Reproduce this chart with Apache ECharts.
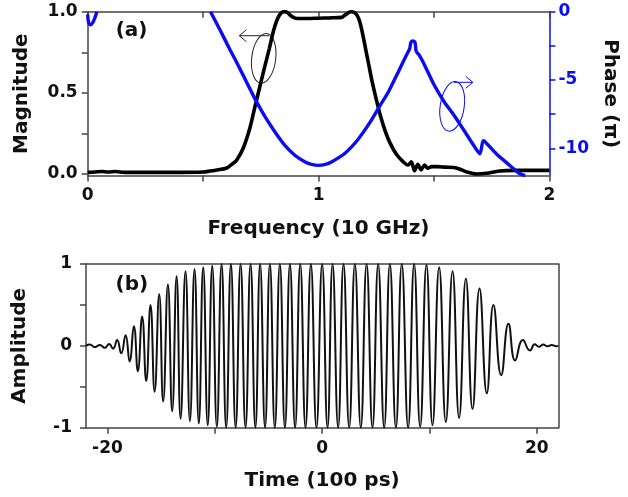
<!DOCTYPE html>
<html>
<head>
<meta charset="utf-8">
<script src="https://cdn.jsdelivr.net/npm/echarts@6/dist/echarts.min.js"></script>
<style>
html,body{margin:0;padding:0;background:#fff;}
#c{width:628px;height:497px;}
</style>
</head>
<body>
<div id="c"></div>
<script>
// ---------- Panel (a): magnitude (left axis) ----------
const magFreq = [0, 0.03, 0.06, 0.09, 0.12, 0.16, 0.25, 0.4, 0.5, 0.53, 0.56, 0.6, 0.625, 0.645, 0.674, 0.702, 0.723, 0.744, 0.765, 0.787, 0.808, 0.829, 0.85, 0.865, 0.88, 0.9, 0.95, 1.0, 1.05, 1.1, 1.12, 1.14, 1.16, 1.176, 1.19, 1.204, 1.218, 1.232, 1.25, 1.27, 1.29, 1.31, 1.338, 1.367, 1.388, 1.402, 1.416, 1.43, 1.444, 1.459, 1.473, 1.49, 1.515, 1.55, 1.586, 1.62, 1.643, 1.685, 1.727, 1.784, 1.85, 1.93, 2.0];
const magValues = [0.01, 0.012, 0.015, 0.012, 0.015, 0.01, 0.01, 0.01, 0.012, 0.018, 0.025, 0.035, 0.06, 0.085, 0.16, 0.28, 0.405, 0.528, 0.651, 0.774, 0.898, 0.975, 1.0, 0.995, 0.975, 0.96, 0.958, 0.96, 0.962, 0.965, 0.985, 1.0, 0.99, 0.95, 0.87, 0.77, 0.67, 0.57, 0.46, 0.35, 0.26, 0.19, 0.12, 0.075, 0.055, 0.075, 0.02, 0.06, 0.025, 0.055, 0.035, 0.045, 0.045, 0.042, 0.04, 0.025, 0.012, 0.0, 0.004, 0.018, 0.022, 0.022, 0.022];

// ---------- Panel (a): phase (right axis, units of pi) ----------
const phaseLowFreq = [0, 0.004, 0.012, 0.022, 0.032, 0.04];
const phaseLowValues = [-0.2, -0.8, -0.95, -0.8, -0.4, 0];
const phaseFreq = [0.532, 0.575, 0.617, 0.645, 0.688, 0.73, 0.772, 0.815, 0.857, 0.9, 0.942, 0.97, 1.0, 1.03, 1.056, 1.112, 1.169, 1.225, 1.268, 1.303, 1.346, 1.381, 1.395, 1.4, 1.409, 1.418, 1.423, 1.437, 1.459, 1.501, 1.544, 1.586, 1.629, 1.671, 1.699, 1.713, 1.72, 1.77, 1.826, 1.869, 1.895];
const phaseValues = [0, -1.4, -2.8, -3.7, -5.15, -6.55, -7.8, -8.9, -9.85, -10.55, -11.0, -11.18, -11.25, -11.18, -11.0, -10.4, -9.39, -8.05, -6.83, -5.86, -4.39, -3.17, -2.7, -2.25, -2.15, -2.25, -2.9, -3.2, -3.9, -5.37, -6.59, -7.56, -8.66, -9.76, -10.4, -9.45, -9.5, -10.4, -11.22, -11.83, -12];

// ---------- Panel (b): waveform extrema ----------
const waveTime = [-22, -21.64, -21.17, -20.71, -20.24, -19.84, -19.47, -19.1, -18.72, -18.31, -17.94, -17.54, -17.17, -16.77, -16.39, -15.99, -15.61, -15.18, -14.81, -14.37, -13.97, -13.56, -13.19, -12.73, -12.32, -11.89, -11.49, -11.08, -10.66, -10.24, -9.81, -9.37, -8.94, -8.5, -8.06, -7.6, -7.14, -6.67, -6.22, -5.78, -5.32, -4.87, -4.41, -3.94, -3.47, -3.0, -2.52, -2.04, -1.55, -1.05, -0.53, 0, 0.5, 0.97, 1.49, 1.99, 2.52, 3.05, 3.6, 4.14, 4.69, 5.22, 5.78, 6.31, 6.87, 7.42, 8.01, 8.57, 9.13, 9.72, 10.28, 10.9, 11.52, 12.15, 12.76, 13.39, 14.01, 14.66, 15.34, 15.96, 16.68, 17.36, 17.98, 18.7, 19.36, 19.8, 20.2, 20.6, 21.0, 21.4, 21.8, 22];
const waveAmp = [0, 0.016, -0.016, 0.01, -0.024, 0.024, -0.035, 0.07, -0.09, 0.13, -0.19, 0.24, -0.31, 0.36, -0.43, 0.5, -0.56, 0.63, -0.68, 0.75, -0.8, 0.85, -0.89, 0.91, -0.92, 0.94, -0.95, 0.96, -0.97, 0.98, -0.99, 1,
  -1, 1, -1, 1, -1, 1, -1, 1, -1, 1, -1, 1, -1, 1, -1, 1, -1, 1,
  -1, 1, -1, 1, -1, 1, -1, 1, -1, 1, -1, 1, -1, 1, -1, 1, -1, 1,
  -0.99, 0.99, -0.97, 0.96, -0.93, 0.91, -0.88, 0.82, -0.77, 0.7, -0.58, 0.5, -0.36, 0.27, -0.18, 0.07, -0.057, 0.02, -0.01, 0.015, -0.005, 0.01, -0.005, 0];

// ---------- Ticks and labels ----------
const freqTicks = [0, 0.5, 1, 1.5, 2];
const freqLabels = [0, 1, 2];
const magTicks = [0, 0.25, 0.5, 0.75, 1];
const magLabels = [0, 0.5, 1];
const phaseTicks = [0, -2.5, -5, -7.5, -10];
const phaseLabels = [0, -5, -10];
const timeTicks = [-20, -10, 0, 10, 20];
const timeLabels = [-20, 0, 20];
const ampTicks = [-1, -0.5, 0, 0.5, 1];
const ampLabels = [-1, 0, 1];

const zip = (a, b) => a.map((v, i) => [v, b[i]]);

const FONT = '"DejaVu Sans", "Open Sans", sans-serif';
const BLUE = '#0c0cf0';
const FRAME = '#444';
const txt = (extra) => Object.assign({fontFamily: FONT, fontWeight: 'bold', fontSize: 17, color: '#111'}, extra || {});
const frameLine = (c) => ({show: true, onZero: false, lineStyle: {color: c || FRAME, width: 1.5}});

const chart = echarts.init(document.getElementById('c'), null, {renderer: 'canvas'});

const option = {
  animation: false,
  backgroundColor: '#fff',
  grid: [
    {left: 87.7, top: 11.7, width: 471.6, height: 163.9},
    {left: 86, top: 264, width: 472.3, height: 163.7}
  ],
  xAxis: [
    {gridIndex: 0, type: 'value', min: 0, max: 2, position: 'bottom',
      axisLine: frameLine(),
      axisTick: {show: true, inside: false, length: 6, customValues: freqTicks, lineStyle: {color: FRAME, width: 1.5}},
      axisLabel: Object.assign(txt(), {customValues: freqLabels, margin: 11, formatter: v => String(v)}),
      splitLine: {show: false},
      name: 'Frequency (10 GHz)', nameLocation: 'middle', nameGap: 43, nameTextStyle: txt({fontSize: 20})},
    {gridIndex: 0, type: 'value', min: 0, max: 2, position: 'top',
      axisLine: frameLine(),
      axisTick: {show: true, inside: true, length: 6, customValues: freqTicks, lineStyle: {color: FRAME, width: 1.5}},
      axisLabel: {show: false}, splitLine: {show: false}},
    {gridIndex: 1, type: 'value', min: -22, max: 22, position: 'bottom',
      axisLine: frameLine(),
      axisTick: {show: true, inside: false, length: 6, customValues: timeTicks, lineStyle: {color: FRAME, width: 1.5}},
      axisLabel: Object.assign(txt(), {customValues: timeLabels, margin: 12, formatter: v => String(v)}),
      splitLine: {show: false},
      name: 'Time (100 ps)', nameLocation: 'middle', nameGap: 43, nameTextStyle: txt({fontSize: 20})},
    {gridIndex: 1, type: 'value', min: -22, max: 22, position: 'top',
      axisLine: frameLine(), axisTick: {show: false}, axisLabel: {show: false}, splitLine: {show: false}}
  ],
  yAxis: [
    {gridIndex: 0, type: 'value', min: -0.01, max: 1, position: 'left',
      axisLine: frameLine(),
      axisTick: {show: true, inside: false, length: 6, customValues: magTicks, lineStyle: {color: FRAME, width: 1.5}},
      axisLabel: Object.assign(txt(), {customValues: magLabels, margin: 10, formatter: v => v.toFixed(1)}),
      splitLine: {show: false},
      name: 'Magnitude', nameLocation: 'middle', nameRotate: 90, nameGap: 56, nameTextStyle: txt({fontSize: 20})},
    {gridIndex: 0, type: 'value', min: -12, max: 0, position: 'right',
      axisLine: frameLine(BLUE),
      axisTick: {show: true, inside: false, length: 6, customValues: phaseTicks, lineStyle: {color: BLUE, width: 1.5}},
      axisLabel: Object.assign(txt({color: BLUE}), {customValues: phaseLabels, margin: 9, formatter: v => String(v)}),
      splitLine: {show: false},
      name: 'Phase (π)', nameLocation: 'middle', nameRotate: -90, nameGap: 47, nameTextStyle: txt({fontSize: 20})},
    {gridIndex: 1, type: 'value', min: -1, max: 1, position: 'left',
      axisLine: frameLine(),
      axisTick: {show: true, inside: false, length: 6, customValues: ampTicks, lineStyle: {color: FRAME, width: 1.5}},
      axisLabel: Object.assign(txt(), {customValues: ampLabels, margin: 14, formatter: v => String(v)}),
      splitLine: {show: false},
      name: 'Amplitude', nameLocation: 'middle', nameRotate: 90, nameGap: 56, nameTextStyle: txt({fontSize: 20})},
    {gridIndex: 1, type: 'value', min: -1, max: 1, position: 'right',
      axisLine: frameLine(), axisTick: {show: false}, axisLabel: {show: false}, splitLine: {show: false}}
  ],
  series: [
    {name: 'Magnitude', type: 'line', xAxisIndex: 0, yAxisIndex: 0, data: zip(magFreq, magValues),
      smooth: 0.3, showSymbol: false, symbol: 'none', lineStyle: {color: '#000', width: 3.6}, z: 3},
    {name: 'PhaseLow', type: 'line', xAxisIndex: 0, yAxisIndex: 1, data: zip(phaseLowFreq, phaseLowValues),
      smooth: 0.4, showSymbol: false, symbol: 'none', lineStyle: {color: BLUE, width: 3.4}, z: 4},
    {name: 'Phase', type: 'line', xAxisIndex: 0, yAxisIndex: 1, data: zip(phaseFreq, phaseValues),
      smooth: 0.25, showSymbol: false, symbol: 'none', lineStyle: {color: BLUE, width: 3.4}, z: 4},
    {name: 'Amplitude', type: 'line', xAxisIndex: 2, yAxisIndex: 2, data: zip(waveTime, waveAmp),
      smooth: true, showSymbol: false, symbol: 'none', lineStyle: {color: '#111', width: 2}, z: 3}
  ]
};
chart.setOption(option);

// ---------- annotations placed in data coordinates ----------
const pA = (x, y) => chart.convertToPixel({xAxisIndex: 0, yAxisIndex: 0}, [x, y]);
const pP = (x, y) => chart.convertToPixel({xAxisIndex: 0, yAxisIndex: 1}, [x, y]);
const pB = (x, y) => chart.convertToPixel({xAxisIndex: 2, yAxisIndex: 2}, [x, y]);

const labA = pA(0.19, 0.881);
const labB = pB(-17.73, 0.746);
const e1 = pA(0.7625, 0.713);
const a1s = pA(0.786, 0.852), a1e = pA(0.657, 0.852);
const e2 = pP(1.579, -6.93);
const a2s = pP(1.586, -5.17), a2e = pP(1.668, -5.17);

chart.setOption({
  graphic: [
    {type: 'text', x: labA[0], y: labA[1], style: {text: '(a)', font: 'bold 20px ' + FONT, fill: '#111', align: 'center', verticalAlign: 'middle'}},
    {type: 'text', x: labB[0], y: labB[1], style: {text: '(b)', font: 'bold 20px ' + FONT, fill: '#111', align: 'center', verticalAlign: 'middle'}},
    {type: 'ellipse', x: e1[0], y: e1[1], rotation: -0.12, shape: {cx: 0, cy: 0, rx: 12, ry: 25}, style: {fill: 'none', stroke: '#222', lineWidth: 1}},
    {type: 'polyline', shape: {points: [a1s, a1e]}, style: {fill: 'none', stroke: '#222', lineWidth: 1}},
    {type: 'polyline', shape: {points: [[a1e[0] + 7, a1e[1] - 6], a1e, [a1e[0] + 7, a1e[1] + 6]]}, style: {fill: 'none', stroke: '#222', lineWidth: 1}},
    {type: 'ellipse', x: e2[0], y: e2[1], rotation: -0.15, shape: {cx: 0, cy: 0, rx: 12, ry: 25}, style: {fill: 'none', stroke: BLUE, lineWidth: 1}},
    {type: 'polyline', shape: {points: [a2s, a2e]}, style: {fill: 'none', stroke: BLUE, lineWidth: 1}},
    {type: 'polyline', shape: {points: [[a2e[0] - 7, a2e[1] - 6], a2e, [a2e[0] - 7, a2e[1] + 6]]}, style: {fill: 'none', stroke: BLUE, lineWidth: 1}}
  ]
});
</script>
</body>
</html>
